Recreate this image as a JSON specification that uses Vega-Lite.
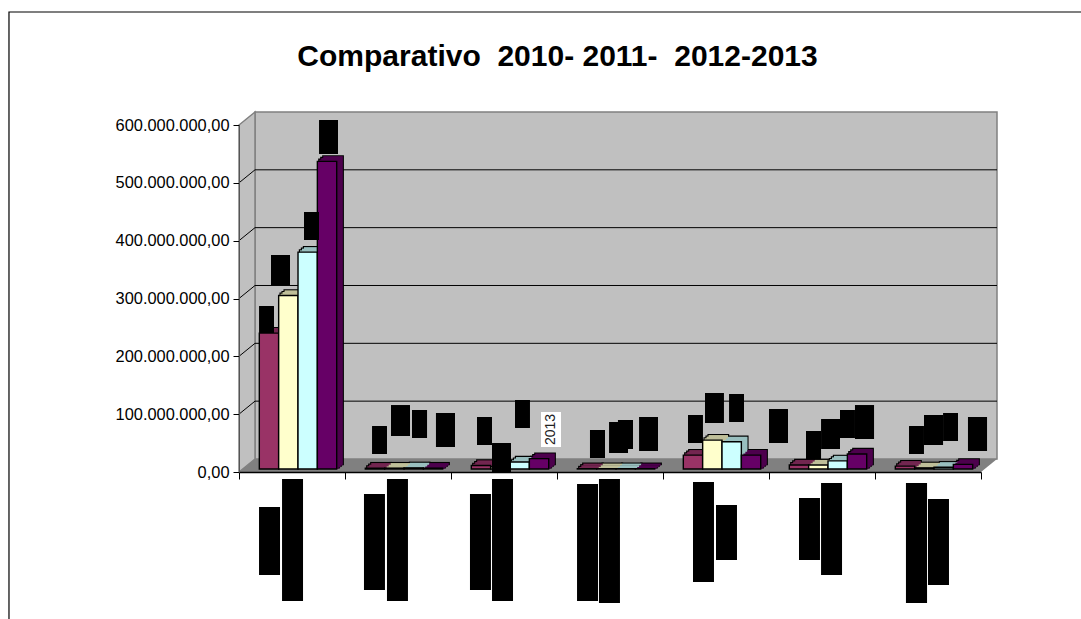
{"$schema":"https://vega.github.io/schema/vega-lite/v6.json","width":742,"height":347,"autosize":"none","padding":{"left":239,"right":100,"top":125,"bottom":147},"background":"white",
"config":{"view":{"stroke":null}},
"datasets":{
"panels":[{"x0":0.151,"x1":7.151,"y0":22.5,"y1":622.5}],
"side":[{"x":0,"low":0,"high":600},{"x":0.151,"low":22.5,"high":622.5}],
"floor":[{"y":0,"x0":0,"x1":7},{"y":22.5,"x0":0.151,"x1":7.151}],
"grid":[{"v":100,"back":122.5},{"v":200,"back":222.5},{"v":300,"back":322.5},{"v":400,"back":422.5},{"v":500,"back":522.5}],
"bars":[
{"cat":"Categoria 1","series":"2010","value":235},{"cat":"Categoria 1","series":"2011","value":300},{"cat":"Categoria 1","series":"2012","value":375},{"cat":"Categoria 1","series":"2013","value":532},
{"cat":"Categoria 2","series":"2010","value":1.5},{"cat":"Categoria 2","series":"2011","value":1.5},{"cat":"Categoria 2","series":"2012","value":2},{"cat":"Categoria 2","series":"2013","value":1.5},
{"cat":"Categoria 3","series":"2010","value":6},{"cat":"Categoria 3","series":"2011","value":4},{"cat":"Categoria 3","series":"2012","value":12},{"cat":"Categoria 3","series":"2013","value":18},
{"cat":"Categoria 4","series":"2010","value":0.5},{"cat":"Categoria 4","series":"2011","value":0.5},{"cat":"Categoria 4","series":"2012","value":0.5},{"cat":"Categoria 4","series":"2013","value":0.5},
{"cat":"Categoria 5","series":"2010","value":24},{"cat":"Categoria 5","series":"2011","value":50},{"cat":"Categoria 5","series":"2012","value":47},{"cat":"Categoria 5","series":"2013","value":24},
{"cat":"Categoria 6","series":"2010","value":7},{"cat":"Categoria 6","series":"2011","value":7},{"cat":"Categoria 6","series":"2012","value":14},{"cat":"Categoria 6","series":"2013","value":26},
{"cat":"Categoria 7","series":"2010","value":5},{"cat":"Categoria 7","series":"2011","value":2},{"cat":"Categoria 7","series":"2012","value":3},{"cat":"Categoria 7","series":"2013","value":8}],
"boxes":[
{"x0":0.189,"x1":0.33,"y0":240.3,"y1":287},{"x0":0.302,"x1":0.481,"y0":323.3,"y1":375.2},{"x0":0.613,"x1":0.755,"y0":401.2,"y1":449.6},{"x0":0.755,"x1":0.934,"y0":549.9,"y1":608.6},
{"x0":1.255,"x1":1.396,"y0":31.1,"y1":79.5},{"x0":1.434,"x1":1.613,"y0":62.2,"y1":115.8},{"x0":1.632,"x1":1.774,"y0":58.8,"y1":107.2},{"x0":1.858,"x1":2.038,"y0":43.2,"y1":102},
{"x0":2.245,"x1":2.387,"y0":46.7,"y1":95.1},{"x0":2.387,"x1":2.566,"y0":-1.7,"y1":50.1},{"x0":2.604,"x1":2.745,"y0":76.1,"y1":124.5},
{"x0":3.311,"x1":3.453,"y0":24.2,"y1":72.6},{"x0":3.491,"x1":3.67,"y0":32.9,"y1":86.5},{"x0":3.575,"x1":3.717,"y0":39.8,"y1":89.9},{"x0":3.774,"x1":3.953,"y0":36.3,"y1":95.1},
{"x0":4.236,"x1":4.377,"y0":50.1,"y1":98.6},{"x0":4.396,"x1":4.575,"y0":84.7,"y1":136.6},{"x0":4.623,"x1":4.764,"y0":86.5,"y1":134.9},{"x0":5,"x1":5.179,"y0":50.1,"y1":108.9},
{"x0":5.349,"x1":5.491,"y0":22.5,"y1":70.9},{"x0":5.491,"x1":5.67,"y0":39.8,"y1":91.6},{"x0":5.67,"x1":5.811,"y0":58.8,"y1":107.2},{"x0":5.811,"x1":5.991,"y0":57.1,"y1":115.8},
{"x0":6.321,"x1":6.462,"y0":31.1,"y1":79.5},{"x0":6.462,"x1":6.642,"y0":46.7,"y1":98.6},{"x0":6.642,"x1":6.783,"y0":53.6,"y1":102},{"x0":6.877,"x1":7.057,"y0":36.3,"y1":95.1},
{"x0":0.189,"x1":0.387,"y0":-60.5,"y1":-178.1},{"x0":0.406,"x1":0.604,"y0":-12.1,"y1":-223.1},{"x0":1.179,"x1":1.377,"y0":-38,"y1":-204},{"x0":1.396,"x1":1.594,"y0":-12.1,"y1":-223.1},
{"x0":2.179,"x1":2.377,"y0":-38,"y1":-204},{"x0":2.387,"x1":2.585,"y0":-12.1,"y1":-223.1},{"x0":3.189,"x1":3.387,"y0":-20.7,"y1":-223.1},{"x0":3.396,"x1":3.594,"y0":-12.1,"y1":-226.5},
{"x0":4.283,"x1":4.481,"y0":-17.3,"y1":-190.2},{"x0":4.5,"x1":4.698,"y0":-57.1,"y1":-152.2},{"x0":5.283,"x1":5.481,"y0":-45,"y1":-152.2},{"x0":5.491,"x1":5.689,"y0":-19,"y1":-178.1},
{"x0":6.292,"x1":6.491,"y0":-19,"y1":-226.5},{"x0":6.5,"x1":6.698,"y0":-46.7,"y1":-195.4}],
"stray":[{"x0":2.849,"x1":3.038,"y0":43.2,"y1":103.7,"xm":2.943,"ym":73.5,"label":"2013"}],
"heading":[{"xm":3.005,"ym":702,"label":"Comparativo\u00a0\u00a02010- 2011-\u00a0\u00a02012-2013"}],
"frame":[{"x0":-2.17,"x1":8.5,"y0":-400,"y1":795.4}]
},
"encoding":{"y":{"type":"quantitative","scale":{"domain":[0,600],"nice":false,"zero":false},"axis":{"title":null,"values":[0,100,200,300,400,500,600],"labelExpr":"datum.value == 0 ? '0,00' : datum.value + '.000.000,00'","labelFont":"Liberation Sans","labelFontSize":16.4,"labelColor":"#000","labelPadding":4,"tickSize":6,"tickColor":"#000","domainColor":"#555","domainWidth":1,"grid":false,"zindex":1}}},
"resolve":{"scale":{"x":"independent"}},
"layer":[
{"layer":[
{"data":{"name":"frame"},"mark":{"type":"rect","fill":null,"stroke":"#000","strokeWidth":1.2},"encoding":{"x":{"field":"x0","type":"quantitative","scale":{"domain":[0,7],"nice":false,"zero":false},"axis":{"title":null,"values":[0,1,2,3,4,5,6,7],"labels":false,"tickSize":7,"tickColor":"#000","domainColor":"#000","domainWidth":1.5,"grid":false,"zindex":1}},"x2":{"field":"x1"},"y":{"field":"y0","type":"quantitative"},"y2":{"field":"y1"}}},
{"data":{"name":"panels"},"mark":{"type":"rect","fill":"#C0C0C0","stroke":"#808080","strokeWidth":1.5},"encoding":{"x":{"field":"x0","type":"quantitative"},"x2":{"field":"x1"},"y":{"field":"y0","type":"quantitative"},"y2":{"field":"y1"}}},
{"data":{"name":"side"},"mark":{"type":"area","fill":"#C0C0C0","stroke":"#808080","strokeWidth":1.5,"orient":"vertical"},"encoding":{"x":{"field":"x","type":"quantitative"},"y":{"field":"low","type":"quantitative"},"y2":{"field":"high"}}},
{"data":{"name":"floor"},"mark":{"type":"area","fill":"#808080","orient":"horizontal"},"encoding":{"y":{"field":"y","type":"quantitative"},"x":{"field":"x0","type":"quantitative"},"x2":{"field":"x1"}}},
{"data":{"name":"grid"},"mark":{"type":"rule","stroke":"#000","strokeWidth":1},"encoding":{"x":{"datum":0.151,"type":"quantitative"},"x2":{"datum":7.151},"y":{"field":"back","type":"quantitative"}}},
{"data":{"name":"grid"},"mark":{"type":"rule","stroke":"#000","strokeWidth":1},"encoding":{"x":{"datum":0,"type":"quantitative"},"x2":{"datum":0.151},"y":{"field":"v","type":"quantitative"},"y2":{"field":"back"}}}
]},
{"data":{"name":"bars"},"resolve":{"scale":{"xOffset":"independent","fill":"independent"}},
"encoding":{"x":{"field":"cat","type":"nominal","scale":{"paddingInner":0.27,"paddingOuter":0.135},"axis":null},"y":{"field":"value","type":"quantitative","stack":null},"y2":{"datum":0}},
"layer":[
{"mark":{"type":"bar","fill":"#000","stroke":"#000","strokeWidth":2.4,"yOffset":-8,"y2Offset":-8},"encoding":{"xOffset":{"field":"series","type":"nominal","scale":{"range":[12,89.4],"paddingInner":0,"paddingOuter":0}}}},
{"mark":{"type":"bar","fill":"#000","stroke":"#000","strokeWidth":2.4,"yOffset":-6.4,"y2Offset":-6.4},"encoding":{"xOffset":{"field":"series","type":"nominal","scale":{"range":[10,87.4],"paddingInner":0,"paddingOuter":0}}}},
{"mark":{"type":"bar","fill":"#000","stroke":"#000","strokeWidth":2.4,"yOffset":-4.7,"y2Offset":-4.7},"encoding":{"xOffset":{"field":"series","type":"nominal","scale":{"range":[8,85.4],"paddingInner":0,"paddingOuter":0}}}},
{"mark":{"type":"bar","yOffset":-8,"y2Offset":-8},"encoding":{"xOffset":{"field":"series","type":"nominal","scale":{"range":[12,89.4],"paddingInner":0,"paddingOuter":0}},"fill":{"field":"series","legend":null,"scale":{"range":["#4D1933","#808066","#668080","#330033"]}}}},
{"mark":{"type":"bar","yOffset":-6.4,"y2Offset":-6.4},"encoding":{"xOffset":{"field":"series","type":"nominal","scale":{"range":[10,87.4],"paddingInner":0,"paddingOuter":0}},"fill":{"field":"series","legend":null,"scale":{"range":["#4D1933","#808066","#668080","#330033"]}}}},
{"mark":{"type":"bar","yOffset":-4.7,"y2Offset":-4.7},"encoding":{"xOffset":{"field":"series","type":"nominal","scale":{"range":[8,85.4],"paddingInner":0,"paddingOuter":0}},"fill":{"field":"series","legend":null,"scale":{"range":["#4D1933","#808066","#668080","#330033"]}}}},
{"mark":{"type":"bar","yOffset":-8,"y2Offset":-6.4},"encoding":{"xOffset":{"field":"series","type":"nominal","scale":{"range":[12,89.4],"paddingInner":0,"paddingOuter":0}},"y2":{"field":"value"},"fill":{"field":"series","legend":null,"scale":{"range":["#732650","#BFBF99","#99BFBF","#4D004D"]}}}},
{"mark":{"type":"bar","yOffset":-6.4,"y2Offset":-4.7},"encoding":{"xOffset":{"field":"series","type":"nominal","scale":{"range":[10,87.4],"paddingInner":0,"paddingOuter":0}},"y2":{"field":"value"},"fill":{"field":"series","legend":null,"scale":{"range":["#732650","#BFBF99","#99BFBF","#4D004D"]}}}},
{"mark":{"type":"bar","yOffset":-4.7,"y2Offset":-3},"encoding":{"xOffset":{"field":"series","type":"nominal","scale":{"range":[8,85.4],"paddingInner":0,"paddingOuter":0}},"y2":{"field":"value"},"fill":{"field":"series","legend":null,"scale":{"range":["#732650","#BFBF99","#99BFBF","#4D004D"]}}}},
{"mark":{"type":"bar","stroke":"#000","strokeWidth":1.4,"yOffset":-3,"y2Offset":-3},"encoding":{"xOffset":{"field":"series","type":"nominal","scale":{"range":[6,83.4],"paddingInner":0,"paddingOuter":0}},"fill":{"field":"series","legend":null,"scale":{"range":["#993366","#FFFFCC","#CCFFFF","#660066"]}}}}
]},
{"layer":[
{"data":{"name":"boxes"},"mark":{"type":"rect","fill":"#000"},"encoding":{"x":{"field":"x0","type":"quantitative","scale":{"domain":[0,7],"nice":false,"zero":false},"axis":null},"x2":{"field":"x1"},"y":{"field":"y0","type":"quantitative"},"y2":{"field":"y1"}}},
{"data":{"name":"stray"},"mark":{"type":"rect","fill":"#FFFFFF"},"encoding":{"x":{"field":"x0","type":"quantitative"},"x2":{"field":"x1"},"y":{"field":"y0","type":"quantitative"},"y2":{"field":"y1"}}},
{"data":{"name":"stray"},"mark":{"type":"text","angle":270,"font":"Liberation Sans","fontSize":14,"color":"#222","align":"center","baseline":"middle"},"encoding":{"x":{"field":"xm","type":"quantitative"},"y":{"field":"ym","type":"quantitative"},"text":{"field":"label"}}},
{"data":{"name":"heading"},"mark":{"type":"text","font":"Liberation Sans","fontSize":30,"fontWeight":"bold","color":"#000","align":"center","baseline":"alphabetic"},"encoding":{"x":{"field":"xm","type":"quantitative"},"y":{"field":"ym","type":"quantitative"},"text":{"field":"label"}}}
]}
]}
